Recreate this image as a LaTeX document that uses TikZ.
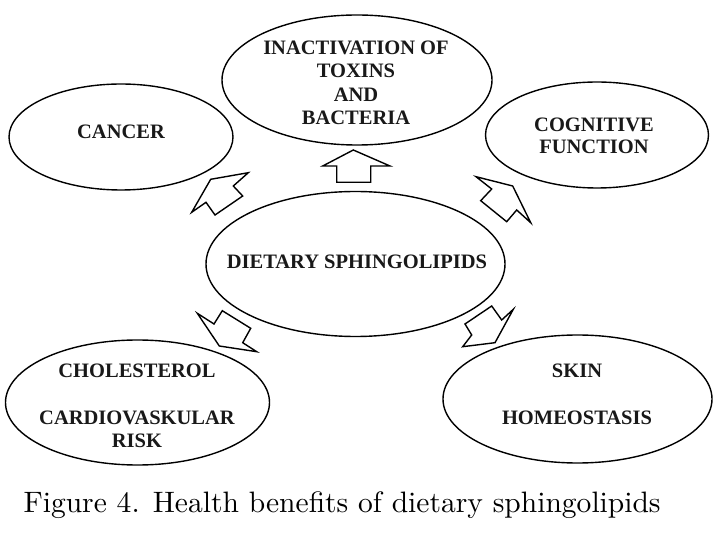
\documentclass[tikz,border=0pt]{standalone}
\usepackage{fontspec}
\usetikzlibrary{shapes.geometric}
\newfontfamily\lblfont{Liberation Serif}
\newfontfamily\capfont{Latin Modern Roman}
\tikzset{
  blob/.style={draw=black, line width=1.4pt, ellipse, inner sep=0pt},
  lbl/.style={font=\lblfont\bfseries\fontsize{20.5}{24}\selectfont, text=black!90, inner sep=0pt},
  blockarrow/.style={draw=black, line width=1.4pt, line join=miter, fill=white},
}
\begin{document}
\begin{tikzpicture}[x=1pt,y=-1pt]
\useasboundingbox (0,0) rectangle (718,534);
\fill[white] (0,0) rectangle (718,534);
% ellipses
\node[blob, minimum width=270pt, minimum height=130pt] (top) at (357,80) {};
\node[blob, minimum width=224pt, minimum height=106pt] (cancer) at (121,137) {};
\node[blob, minimum width=223pt, minimum height=106pt] (cog) at (597,135) {};
\node[blob, minimum width=299pt, minimum height=145pt] (center) at (355.5,264) {};
\node[blob, minimum width=264pt, minimum height=125pt] (chol) at (137.5,402.5) {};
\node[blob, minimum width=269pt, minimum height=128pt] (skin) at (577.5,399) {};
% labels
\node[lbl] (t1) at (356,47.5) {INACTIVATION OF};
\node[lbl] (t2) at (356,71) {TOXINS};
\node[lbl] (t3) at (356,94.5) {AND};
\node[lbl] (t4) at (356,118) {BACTERIA};
\node[lbl] (c1) at (121,131.5) {CANCER};
\node[lbl] (g1) at (594,124.5) {COGNITIVE};
\node[lbl] (g2) at (594,147) {FUNCTION};
\node[lbl] (d1) at (357,262) {DIETARY SPHINGOLIPIDS};
\node[lbl] (h1) at (137,370.5) {CHOLESTEROL};
\node[lbl] (h2) at (137,418) {CARDIOVASKULAR};
\node[lbl] (h3) at (137,440.5) {RISK};
\node[lbl] (s1) at (577,370.5) {SKIN};
\node[lbl] (s2) at (577,417.5) {HOMEOSTASIS};
% block arrows
\draw[blockarrow] (353.3,150) -- (390,166) -- (370.7,166) -- (370.7,182.3)
  -- (336.7,182.3) -- (336.7,166) -- (322.7,166) -- cycle;
\draw[blockarrow] (210.7,179.3) -- (248.3,172.7) -- (233.3,186) -- (242.7,196)
  -- (215,215) -- (206,202.3) -- (191.7,212.3) -- cycle;
\draw[blockarrow] (512.7,186) -- (530.7,222.7) -- (516.7,210) -- (506.7,221.7)
  -- (480.7,200.7) -- (491.7,189) -- (476,176.7) -- cycle;
\draw[blockarrow] (219.3,346) -- (197.3,313.3) -- (214,324) -- (222.3,310.7)
  -- (250.7,328.3) -- (242.7,342.7) -- (256.7,351.7) -- cycle;
\draw[blockarrow] (495,342.7) -- (462.7,346.7) -- (471.7,335) -- (465,324)
  -- (491.7,306) -- (501.7,320) -- (513.3,309.3) -- cycle;
% caption
\node[anchor=base west, inner sep=0pt, text=black] (cap) at (23.3,512.3)
  {\resizebox{637pt}{!}{\capfont Figure 4. Health benefits of dietary sphingolipids}};
\end{tikzpicture}
\end{document}
